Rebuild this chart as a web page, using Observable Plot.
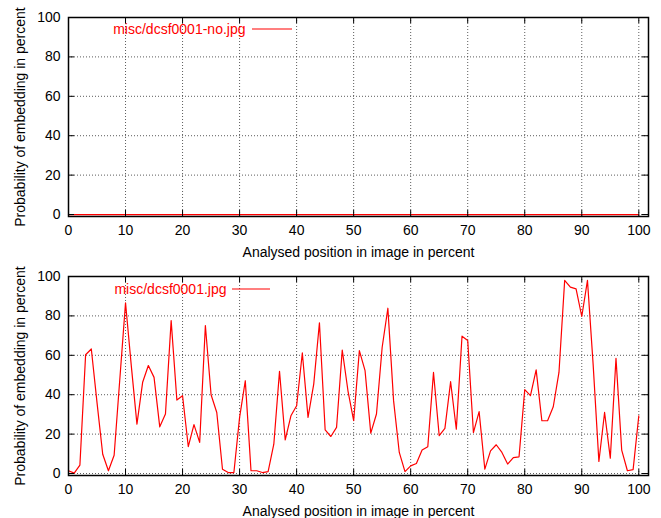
<!DOCTYPE html>
<html><head><meta charset="utf-8">
<script src="https://cdn.jsdelivr.net/npm/d3@7"></script>
<script src="https://cdn.jsdelivr.net/npm/@observablehq/plot@0.6"></script>
<style>
body{margin:0;background:#fff;}
#chart{width:661px;height:518px;}
#chart svg{display:block;}
</style></head><body><div id="chart"></div>
<script>
const positions = [0,1,2,3,4,5,6,7,8,9,10,11,12,13,14,15,16,17,18,19,20,21,22,23,24,25,26,27,28,29,30,31,32,33,34,35,36,37,38,39,40,41,42,43,44,45,46,47,48,49,50,51,52,53,54,55,56,57,58,59,60,61,62,63,64,65,66,67,68,69,70,71,72,73,74,75,76,77,78,79,80,81,82,83,84,85,86,87,88,89,90,91,92,93,94,95,96,97,98,99,100];
const noValues = [0,0,0,0,0,0,0,0,0,0,0,0,0,0,0,0,0,0,0,0,0,0,0,0,0,0,0,0,0,0,0,0,0,0,0,0,0,0,0,0,0,0,0,0,0,0,0,0,0,0,0,0,0,0,0,0,0,0,0,0,0,0,0,0,0,0,0,0,0,0,0,0,0,0,0,0,0,0,0,0,0,0,0,0,0,0,0,0,0,0,0,0,0,0,0,0,0,0,0,0,0];
const withValues = [1.4,0.2,4.3,60.3,63.2,36,9.8,1.4,9.3,48,86.6,55,25.1,46.3,54.8,48.8,23.7,30.2,77.6,37.3,39.5,13.7,24.8,15.8,75.1,40.0,31.0,2.2,0.5,0.5,28.5,47.1,1.4,1.4,0.5,1.0,14.9,51.9,17.1,29.3,34.4,61.2,28.5,45.4,76.5,22.2,18.8,23.4,62.7,42,26.8,62.4,52.2,20.5,30.2,64.1,83.9,37.0,10.7,1.0,3.9,5.1,11.9,13.6,51.3,19.2,22.9,46.6,22.5,69.7,67.5,20.8,31.4,2.2,11.5,14.6,10.7,4.8,8.1,8.5,42.6,39.5,52.6,26.8,26.8,33.9,51.3,98.0,94.6,93.7,79.7,98.0,55,6.1,31.0,7.8,58.5,11.9,1.4,2.0,29.3];
const xTicks = [0,10,20,30,40,50,60,70,80,90,100];
const yTicks = [0,20,40,60,80,100];
const xLabel = "Analysed position in image in percent";
const yLabel = "Probability of embedding in percent";
const seriesNames = ["misc/dcsf0001-no.jpg", "misc/dcsf0001.jpg"];
const seriesValues = [noValues, withValues];

const W = 661, H = 259, ML = 68, MR = 13, MT = 17, MB = 43;
const legendLayout = [{dx:177, y:29, x1:252, x2:292}, {dx:158, y:30, x1:232, x2:270}];
const root = document.getElementById("chart");

seriesNames.forEach((name, k) => {
  const data = positions.map((x, i) => ({x, y: seriesValues[k][i]}));
  const L = legendLayout[k];
  const ph = H - MT - MB, pw = W - ML - MR;
  const grid = {stroke:"#333", strokeOpacity:0.8, strokeDasharray:"1,2", strokeWidth:1};
  const svg = Plot.plot({
    width: W, height: H, marginLeft: ML, marginRight: MR, marginTop: MT, marginBottom: MB,
    style: {fontFamily: '"Liberation Sans", Arial, sans-serif', fontSize: "14px", background: "#fff", color: "#000", overflow: "visible"},
    x: {domain: [0, 101.7]},
    y: {domain: [-1, 100]},
    marks: [
      Plot.ruleX(xTicks.filter(t => t > 0), grid),
      Plot.ruleY(yTicks.filter(t => t < 100), grid),
      Plot.line(data, {x: "x", y: "y", stroke: "#ff0000", strokeWidth: 1.2}),
      Plot.frame({stroke: "#000", strokeWidth: 1.5}),
      Plot.ruleX(xTicks, {insetTop: ph - 6, stroke: "#000"}),
      Plot.ruleX(xTicks, {insetBottom: ph - 6, stroke: "#000"}),
      Plot.ruleY(yTicks, {insetRight: pw - 6, stroke: "#000"}),
      Plot.ruleY(yTicks, {insetLeft: pw - 6, stroke: "#000"}),
      Plot.axisX(xTicks, {tickSize: 0, tickPadding: 9, label: null, fontSize: 14}),
      Plot.axisY(yTicks, {tickSize: 0, tickPadding: 8, label: null, fontSize: 14}),
      Plot.text([xLabel], {frameAnchor: "bottom", dy: 36, textAnchor: "middle", lineAnchor: "middle", fontSize: 14}),
      Plot.text([yLabel], {frameAnchor: "left", dx: -48, rotate: -90, textAnchor: "middle", lineAnchor: "middle", fontSize: 14}),
      Plot.text([name], {frameAnchor: "top-left", dx: L.dx, dy: L.y - MT, textAnchor: "end", lineAnchor: "middle", fill: "#ff0000", fontSize: 14})
    ]
  });
  d3.select(svg).append("line")
    .attr("x1", L.x1).attr("x2", L.x2).attr("y1", L.y).attr("y2", L.y)
    .attr("stroke", "#ff0000").attr("stroke-width", 1.2);
  root.appendChild(svg);
});
</script>
</body></html>
